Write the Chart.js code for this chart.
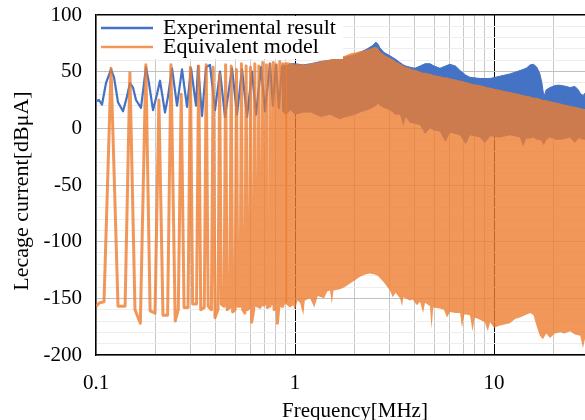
<!DOCTYPE html>
<html>
<head>
<meta charset="utf-8">
<title>Lecage current</title>
<script src="https://cdn.jsdelivr.net/npm/chart.js@4.4.1/dist/chart.umd.min.js"></script>
<style>
	html, body { margin: 0; padding: 0; background: #ffffff; overflow: hidden; }
	#wrap { width: 600px; height: 420px; }
</style>
</head>
<body>
<div id="wrap"><canvas id="chart" width="600" height="420"></canvas></div>
<script>
/*********************** DATA ******************************/
// axis ticks
const xGridValues = [0.1, 0.2, 0.3, 0.4, 0.5, 0.6, 0.7, 0.8, 0.9, 1, 2, 3, 4, 5, 6, 7, 8, 9, 10, 20, 30];
const xTickValues = [0.1, 1, 10];
const xTickLabels = ['0.1', '1', '10'];
const yTickLabels = [100, 50, 0, -50, -100, -150, -200];

// experimental result, low frequency part (MHz / dBμA)
const blueLowF = [0.100, 0.1035, 0.1072, 0.1123, 0.1190, 0.1232, 0.1290, 0.1367, 0.1431, 0.1482, 0.1534, 0.1589,
	0.1683, 0.1783, 0.1845, 0.1934, 0.2025, 0.2097, 0.2222, 0.2300, 0.2409, 0.2553, 0.2705, 0.2867, 0.3002,
	0.3181, 0.3256, 0.3410, 0.3573, 0.3740, 0.3963, 0.4200, 0.4449, 0.4662, 0.4825, 0.5111, 0.5416, 0.5739,
	0.6080, 0.6368, 0.6748, 0.7068, 0.7486, 0.774, 0.801, 0.830, 0.860];
const blueLowDb = [24, 25, 21, 40, 52, 45, 23, 15, 28, 40, 36, 25,
	18, 54, 40, 16, 30, 42, 14, 28, 53, 20, 52, 19, 53,
	20, 55, 11, 54, 56, 16, 50, 10, 35, 53, 12, 52, 10,
	50, 12, 54, 15, 57, 20, 56, 18, 55];

// experimental result, dense part: upper and lower edge of the band
const blueBandF = [0.86, 0.90, 0.95, 1.00, 1.10, 1.20, 1.35, 1.50, 1.68, 1.80, 2.00, 2.12, 2.30, 2.45, 2.55, 2.62,
	2.67, 2.80, 3.00, 3.20, 3.37, 3.50, 3.60, 3.78, 4.00, 4.25, 4.50, 4.77, 5.00, 5.35, 5.70, 6.00, 6.40, 6.75,
	7.20, 7.57, 8.50, 9.00, 9.55, 10.7, 12.0, 13.5, 14.0, 14.5, 15.2, 15.8, 16.4, 17.0, 17.4, 17.8, 18.3, 19.1,
	20.5, 21.5, 23.0, 24.1, 25.5, 26.5, 27.1, 28.0, 29.3, 30.0];
const blueTopDb = [56, 55, 57, 57, 56, 57, 59, 60, 62, 63, 65, 67, 70, 73, 76, 74,
	71, 67, 64, 61, 58, 56, 55, 54, 53, 55, 57, 57, 55, 53, 55, 56.5, 55, 51,
	47, 45, 44, 44, 44, 46, 48, 51, 52, 53, 56, 56.5, 54, 48, 40, 28, 34, 36,
	38, 38, 37, 36, 37, 34, 31, 29, 33, 32];
const blueBottomDb = [15, 12, 16, 12, 14, 14, 10, 12, 8, 10, 12, 14, 16, 18, 20, 22,
	20, 18, 16, 12, 12, 2, 10, 5, 4, 3, -5, 0, -2, -3, -12, -4, -5, -6,
	-14, -6, -8, -13, -7, -8, -6, -8, -16, -9, -9, -8, -10, -10, -12, -15, -10, -8,
	-10, -10, -9, -8, -13, -9, -9, -10, -10, -10];

// equivalent model, low frequency resonances
const orangeLowF = [0.100, 0.104, 0.1097, 0.119, 0.129, 0.140, 0.148, 0.157, 0.167, 0.178, 0.187, 0.198, 0.207,
	0.217, 0.229, 0.238, 0.250, 0.259, 0.268, 0.277, 0.290, 0.298, 0.306, 0.320, 0.328, 0.336, 0.350, 0.358,
	0.366, 0.380, 0.388, 0.396, 0.410, 0.418, 0.426, 0.440, 0.448, 0.456, 0.470, 0.478, 0.486, 0.500, 0.508,
	0.516, 0.530, 0.538, 0.546, 0.560, 0.568, 0.576, 0.590, 0.598, 0.606, 0.620, 0.628, 0.636, 0.650, 0.658,
	0.666, 0.680, 0.688, 0.696, 0.711, 0.718, 0.725, 0.741, 0.748, 0.755, 0.771, 0.778, 0.785, 0.801, 0.808,
	0.815, 0.831, 0.838, 0.845, 0.861, 0.868, 0.875, 0.891, 0.898];
const orangeLowDb = [-157, -154, -153, 53, -157, -157, 49, -160, -172, 56, -161, -163, 25,
	-165, -165, 56, -170, -160, 30, -158, -158, 54, -155, -155, 55, -160, -158, 56,
	-157, -160, 54, -167, -160, 48, -155, -157, 56, -160, -158, 55, -162, -160, 52,
	-157, -157, 57, -160, -163, 55, -160, -158, 54, -171, -160, 57, -156, -157, 55,
	-158, -155, 58, -156, -153, 56, -158, -157, 57, -152, -155, 58, -160, -158, 56,
	-172, -156, 59, -154, -157, 57, -155, -153, 58];

// equivalent model, dense part: upper and lower edge of the band
const orangeBandF = [0.898, 0.94, 0.98, 1.00, 1.03, 1.06, 1.10, 1.12, 1.19, 1.25, 1.30, 1.40, 1.45, 1.50, 1.53, 1.56,
	1.68, 1.78, 1.89, 2.00, 2.12, 2.25, 2.38, 2.52, 2.60, 2.67, 2.80, 3.00, 3.10, 3.20, 3.37, 3.45, 3.50, 3.78,
	3.90, 4.10, 4.25, 4.40, 4.50, 4.77, 4.85, 4.95, 5.35, 5.60, 5.80, 6.01, 6.40, 6.75, 6.90, 7.10, 7.57, 7.80,
	8.00, 8.50, 9.00, 9.30, 9.55, 10.0, 10.7, 11.3, 12.0, 12.8, 13.5, 14.3, 15.2, 15.8, 16.4, 17.0, 17.6, 18.3,
	19.1, 20.2, 21.5, 22.5, 24.1, 25.5, 27.1, 28.0, 28.6, 30.0];
const orangeTopDb = [58, 58, 57, 56, 57, 56, 57, 56, 57, 58, 58, 60, 60, 61, 61, 62,
	63, 64, 66, 67, 68, 69, 70, 72, 71, 68, 65, 62, 61, 59, 57, 56, 55, 53,
	52, 51, 50, 49, 49, 48, 48, 47, 46, 45, 45, 44, 43, 42, 42, 41, 40, 39,
	39, 38, 37, 36, 36, 35, 34, 33, 32, 31, 30, 29, 28, 27, 27, 26, 25, 25,
	24, 23, 22, 21, 20, 19, 18, 17, 17, 16];
const orangeBottomDb = [-155, -158, -156, -160, -152, -154, -165, -152, -150, -158, -148, -150, -144, -143, -155, -143,
	-142, -140, -137, -134, -131, -129, -128, -129, -130, -132, -136, -143, -149, -145, -150, -157, -149, -152,
	-151, -156, -153, -163, -154, -157, -177, -158, -159, -160, -167, -162, -163, -163, -176, -164, -165, -179,
	-167, -169, -171, -179, -171, -176, -174, -173, -172, -168, -167, -165, -163, -165, -175, -183, -186, -181,
	-185, -181, -180, -181, -179, -182, -183, -194, -186, -190];

/*********************** CHART ******************************/
const FONT = "'Liberation Serif', 'Times New Roman', serif";
const BLUE = '#4472C4';
const ORANGE = 'rgba(237, 125, 49, 0.8)';
const NONE = 'rgba(0, 0, 0, 0)';

const toPoints = (f, db) => f.map((x, i) => ({ x: x, y: db[i] }));

// legend and axis titles are drawn by hand to sit where the original puts them
const chartDecor = {
	id: 'chartDecor',
	afterDraw(chart) {
		const { ctx, chartArea } = chart;
		ctx.save();
		// legend box covers the grid
		ctx.fillStyle = '#ffffff';
		ctx.fillRect(chartArea.left + 1, chartArea.top + 1, 246, 43);
		ctx.lineWidth = 2.5;
		ctx.strokeStyle = BLUE;
		ctx.beginPath();
		ctx.moveTo(101, 28);
		ctx.lineTo(153, 28);
		ctx.stroke();
		ctx.strokeStyle = 'rgb(241, 151, 90)';
		ctx.beginPath();
		ctx.moveTo(101, 47);
		ctx.lineTo(153, 47);
		ctx.stroke();
		ctx.fillStyle = '#000000';
		ctx.font = '22px ' + FONT;
		ctx.textAlign = 'left';
		ctx.textBaseline = 'alphabetic';
		ctx.fillText('Experimental result', 163, 34);
		ctx.fillText('Equivalent model', 163, 53);
		// axis titles
		ctx.font = '21px ' + FONT;
		ctx.textAlign = 'center';
		ctx.textBaseline = 'middle';
		ctx.fillText('Frequency[MHz]', 355, 411);
		ctx.font = '22px ' + FONT;
		ctx.translate(22, 191);
		ctx.rotate(-Math.PI / 2);
		ctx.fillText('Lecage current[dBμA]', 0, 0);
		ctx.restore();
	},
};

const lineStyle = {
	pointRadius: 0,
	pointHoverRadius: 0,
	pointHitRadius: 0,
	tension: 0,
	borderJoinStyle: 'round',
};

const data = {
	datasets: [
		{ ...lineStyle, data: toPoints(blueLowF, blueLowDb), borderColor: BLUE, borderWidth: 2.2, order: 3 },
		{ ...lineStyle, data: toPoints(blueBandF, blueTopDb), borderColor: BLUE, borderWidth: 1,
			backgroundColor: BLUE, fill: '+1', order: 3 },
		{ ...lineStyle, data: toPoints(blueBandF, blueBottomDb), borderColor: NONE, borderWidth: 1, order: 3 },
		{ ...lineStyle, data: toPoints(orangeLowF, orangeLowDb), borderColor: ORANGE, borderWidth: 3, order: 1 },
		{ ...lineStyle, data: toPoints(orangeBandF, orangeTopDb), borderColor: NONE, borderWidth: 1,
			backgroundColor: ORANGE, fill: '+1', order: 1 },
		{ ...lineStyle, data: toPoints(orangeBandF, orangeBottomDb), borderColor: NONE, borderWidth: 1, order: 1 },
	],
};

const chartConfig = {
	type: 'line',
	data: data,
	options: {
		responsive: false,
		animation: false,
		events: [],
		layout: { autoPadding: false, padding: { left: 0, top: 15, right: 11, bottom: 0 } },
		plugins: {
			legend: { display: false },
			tooltip: { enabled: false },
		},
		scales: {
			x: {
				type: 'logarithmic',
				min: 0.1,
				max: 30,
				afterBuildTicks: (scale) => {
					scale.ticks = xGridValues.map((v) => ({ value: v }));
				},
				// fixed size, no extra room for edge labels
				afterFit: (scale) => {
					scale.height = 65;
					scale.paddingLeft = 0;
					scale.paddingRight = 0;
				},
				border: { color: '#000000', width: 1.5 },
				grid: {
					drawTicks: false,
					color: (c) => (c.tick && (c.tick.value === 1 || c.tick.value === 10) ? '#000000' : '#c8c8c8'),
				},
				ticks: {
					autoSkip: false,
					maxRotation: 0,
					padding: 16,
					color: '#000000',
					font: { family: FONT, size: 21 },
					callback: (value) => {
						const i = xTickValues.indexOf(value);
						return i >= 0 ? xTickLabels[i] : '';
					},
				},
			},
			y: {
				type: 'linear',
				min: -200,
				max: 100,
				afterFit: (scale) => {
					scale.width = 96;
					scale.paddingTop = 0;
					scale.paddingBottom = 0;
				},
				border: { color: '#000000', width: 1.5 },
				grid: {
					drawTicks: false,
					color: (c) => {
						const v = c.tick ? c.tick.value : 0;
						if (v === 100) return '#000000';
						return v % 50 === 0 ? '#c0c0c0' : '#ededed';
					},
					lineWidth: (c) => (c.tick && c.tick.value === 100 ? 1.5 : 1),
				},
				ticks: {
					stepSize: 10,
					autoSkip: false,
					padding: 14,
					color: '#000000',
					font: { family: FONT, size: 21 },
					callback: (value) => (yTickLabels.includes(value) ? String(value) : ''),
				},
			},
		},
	},
	plugins: [chartDecor],
};

new Chart(document.getElementById('chart'), chartConfig);
</script>
</body>
</html>
